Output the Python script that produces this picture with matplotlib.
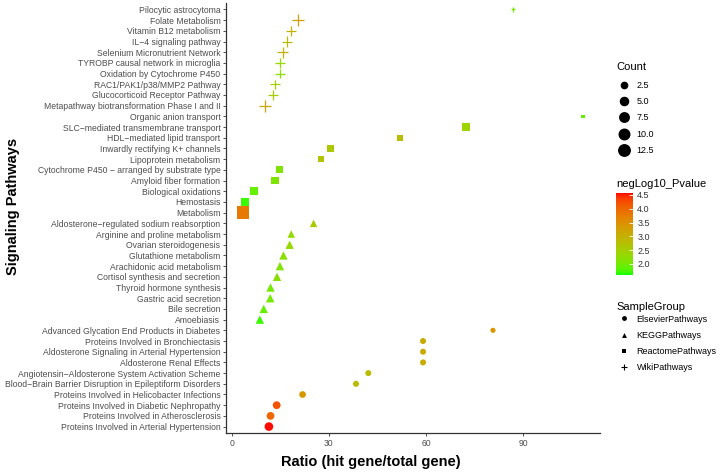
import numpy as np
import matplotlib
matplotlib.use("Agg")
import matplotlib.pyplot as plt
from matplotlib.colors import ListedColormap, Normalize
from matplotlib.lines import Line2D

plt.rcParams['font.family'] = ['Liberation Sans', 'DejaVu Sans']

# pathways listed top to bottom as drawn
pathways = [
    "Pilocytic astrocytoma", "Folate Metabolism", "Vitamin B12 metabolism",
    "IL\u22124 signaling pathway", "Selenium Micronutrient Network",
    "TYROBP causal network in microglia", "Oxidation by Cytochrome P450",
    "RAC1/PAK1/p38/MMP2 Pathway", "Glucocorticoid Receptor Pathway",
    "Metapathway biotransformation Phase I and II",
    "Organic anion transport", "SLC\u2212mediated transmembrane transport",
    "HDL\u2212mediated lipid transport", "Inwardly rectifying K+ channels",
    "Lipoprotein metabolism", "Cytochrome P450 \u2212 arranged by substrate type",
    "Amyloid fiber formation", "Biological oxidations", "Hemostasis", "Metabolism",
    "Aldosterone\u2212regulated sodium reabsorption", "Arginine and proline metabolism",
    "Ovarian steroidogenesis", "Glutathione metabolism", "Arachidonic acid metabolism",
    "Cortisol synthesis and secretion", "Thyroid hormone synthesis",
    "Gastric acid secretion", "Bile secretion", "Amoebiasis",
    "Advanced Glycation End Products in Diabetes",
    "Proteins Involved in Bronchiectasis",
    "Aldosterone Signaling in Arterial Hypertension", "Aldosterone Renal Effects",
    "Angiotensin\u2212Aldosterone System Activation Scheme",
    "Blood\u2212Brain Barrier Disruption in Epileptiform Disorders",
    "Proteins Involved in Helicobacter Infections",
    "Proteins Involved in Diabetic Nephropathy",
    "Proteins Involved in Atherosclerosis",
    "Proteins Involved in Arterial Hypertension",
]
groups = (["WikiPathways"] * 10 + ["ReactomePathways"] * 10
          + ["KEGGPathways"] * 10 + ["ElsevierPathways"] * 10)
ratio = [87, 20.6, 18.4, 17.0, 15.7, 14.9, 14.9, 13.4, 12.8, 10.2,
         108.5, 72.3, 52.0, 30.5, 27.6, 14.7, 13.4, 6.8, 4.1, 3.5,
         25.3, 18.4, 17.9, 16.0, 14.9, 14.0, 12.0, 11.9, 9.9, 8.7,
         80.7, 59.1, 59.1, 59.1, 42.2, 38.4, 21.9, 13.9, 12.0, 11.5]
count = [1, 8, 5, 5, 6, 4, 4, 4, 4, 8,
         1, 4, 2, 2, 2, 3, 3, 4, 5, 13,
         3, 3, 4, 4, 4, 4, 4, 4, 4, 4,
         2, 3, 3, 3, 3, 3, 4, 6, 6, 8]
neglog_p = [2.0, 3.3, 3.0, 2.8, 3.0, 2.3, 2.2, 2.5, 2.5, 3.2,
            1.9, 2.4, 2.8, 2.6, 2.7, 2.1, 2.1, 1.9, 1.7, 3.8,
            2.6, 2.3, 2.3, 2.2, 2.1, 2.2, 2.0, 2.0, 1.9, 1.7,
            3.4, 3.1, 3.1, 3.1, 2.8, 2.8, 3.4, 4.2, 4.0, 4.55]

group_names = ["ElsevierPathways", "KEGGPathways", "ReactomePathways", "WikiPathways"]
group_markers = {"ElsevierPathways": "o", "KEGGPathways": "^",
                 "ReactomePathways": "s", "WikiPathways": "+"}
marker_scale = {"o": 1.0, "^": 1.25, "s": 1.2, "+": 1.4}
count_breaks = [2.5, 5.0, 7.5, 10.0, 12.5]
p_breaks = [2.0, 2.5, 3.0, 3.5, 4.0, 4.5]


# ggplot-like green -> red gradient, interpolated in Lab space
def to_lab(rgb):
    c = np.asarray(rgb, float)
    c = np.where(c > 0.04045, ((c + 0.055) / 1.055) ** 2.4, c / 12.92)
    m = np.array([[0.4124, 0.3576, 0.1805], [0.2126, 0.7152, 0.0722], [0.0193, 0.1192, 0.9505]])
    xyz = m @ c / np.array([0.95047, 1.0, 1.08883])
    f = np.where(xyz > 0.008856, np.cbrt(xyz), 7.787 * xyz + 16 / 116)
    return np.array([116 * f[1] - 16, 500 * (f[0] - f[1]), 200 * (f[1] - f[2])])


def from_lab(lab):
    fy = (lab[0] + 16) / 116
    f = np.array([fy + lab[1] / 500, fy, fy - lab[2] / 200])
    xyz = np.where(f > 0.2069, f ** 3, (f - 16 / 116) / 7.787) * np.array([0.95047, 1.0, 1.08883])
    m = np.array([[3.2406, -1.5372, -0.4986], [-0.9689, 1.8758, 0.0415], [0.0557, -0.2040, 1.0570]])
    c = np.clip(m @ xyz, 0, 1)
    c = np.where(c > 0.0031308, 1.055 * c ** (1 / 2.4) - 0.055, 12.92 * c)
    return np.clip(c, 0, 1)


lab_lo, lab_hi = to_lab([0, 1, 0]), to_lab([1, 0, 0])
cmap = ListedColormap([from_lab(lab_lo + t * (lab_hi - lab_lo)) for t in np.linspace(0, 1, 256)])
norm = Normalize(vmin=1.6, vmax=4.57)


def diam_px(c):
    return 3.0 + 7.4 * np.sqrt((np.asarray(c, float) - 1) / 12)


fig = plt.figure(figsize=(7.2, 4.75), dpi=100)
ax = fig.add_axes([226 / 720, 1 - 433 / 475, 374 / 720, 430 / 475])

y = np.arange(len(pathways))
ratio_a, count_a, p_a = np.array(ratio), np.array(count), np.array(neglog_p)
grp_a = np.array(groups)
for g in group_names:
    sel = grp_a == g
    mk = group_markers[g]
    size_pt = diam_px(count_a[sel]) * marker_scale[mk] * 0.72
    col = cmap(norm(p_a[sel]))
    if mk == "+":
        ax.scatter(ratio_a[sel], y[sel], s=size_pt ** 2, marker=mk, c=col, linewidths=0.9)
    else:
        ax.scatter(ratio_a[sel], y[sel], s=size_pt ** 2, marker=mk, c=col, linewidths=0)

ax.set_xlim(-1.75, 113.75)
ax.set_ylim(len(pathways) - 0.4, -0.6)
ax.set_yticks(y)
ax.set_yticklabels(pathways)
ax.set_xticks([0, 30, 60, 90])
ax.tick_params(axis='both', labelsize=6.2, labelcolor='#4D4D4D', color='#333333',
               length=2.5, width=0.6, pad=1.5)
for side in ['top', 'right']:
    ax.spines[side].set_visible(False)
for side in ['left', 'bottom']:
    ax.spines[side].set_color('#333333')
    ax.spines[side].set_linewidth(0.9)
ax.set_xlabel("Ratio (hit gene/total gene)", fontsize=10.5, fontweight='bold', va='center')
ax.xaxis.set_label_coords((371 - 226) / 374, (433 - 462) / 430)
ax.set_ylabel("Signaling Pathways", fontsize=10.5, fontweight='bold', va='center')
ax.yaxis.set_label_coords((13 - 226) / 374, (433 - 206) / 430)

legend_kw = dict(loc='upper left', frameon=False, fontsize=6.5, labelspacing=0.8,
                 handlelength=1.0, handletextpad=0.9, borderpad=0)

# Count legend
fig.text(616 / 720, 1 - 67 / 475, "Count", fontsize=8, va='center', ha='left')
count_handles = [Line2D([], [], marker='o', ls='', color='black',
                        markersize=diam_px(b) * 1.12 * 0.72) for b in count_breaks]
fig.legend(count_handles, [f"{b:.1f}" for b in count_breaks],
           bbox_to_anchor=(615 / 720, 1 - 76.5 / 475), **legend_kw)

# Colorbar
cax = fig.add_axes([616 / 720, 1 - 275 / 475, 17 / 720, 82 / 475])
cb = fig.colorbar(plt.cm.ScalarMappable(norm=norm, cmap=cmap), cax=cax)
cb.outline.set_visible(False)
cb.set_ticks(p_breaks)
cb.set_ticklabels([f"{v:.1f}" for v in p_breaks])
cax.tick_params(labelsize=6.5, labelcolor='#333333', color='white', length=3,
                width=0.6, direction='in', pad=3)
fig.text(616 / 720, 1 - 184 / 475, "negLog10_Pvalue", fontsize=8, va='center', ha='left')

# SampleGroup legend
fig.text(616 / 720, 1 - 307 / 475, "SampleGroup", fontsize=8, va='center', ha='left')
shape_handles = [Line2D([], [], marker=group_markers[g], ls='', color='black',
                        markersize=3.5 if group_markers[g] != '+' else 5,
                        markeredgewidth=0.8 if group_markers[g] == '+' else 0)
                 for g in group_names]
fig.legend(shape_handles, group_names,
           bbox_to_anchor=(615 / 720, 1 - 310 / 475), **legend_kw)

fig.savefig("out.png", dpi=100, facecolor='white')
